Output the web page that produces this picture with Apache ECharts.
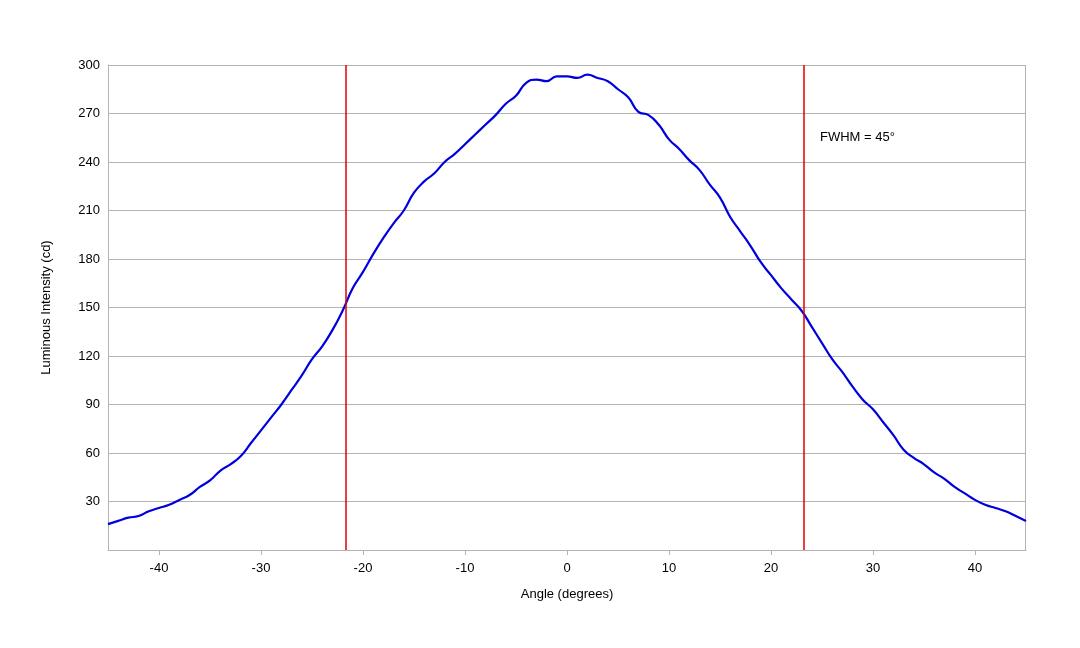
<!DOCTYPE html><html><head><meta charset="utf-8"><script src="https://cdn.jsdelivr.net/npm/echarts@6/dist/echarts.min.js"></script></head><body style="margin:0"><div id="c" style="width:1080px;height:648px"></div><script>
const angles=[];for(let a=-45;a<=45;a++)angles.push(a);
const intensity=[16,18,20,21,24,26,28,31,34,39,43,49,53,58,66,74,82,90,99,108,118,126,136,148,162,172,183,193,202,210,221,228,233,240,245,251,257,263,269,276,281,289,291,290,293,293,292,294,292,290,285,280,271,269,263,254,248,241,235,226,218,206,197,188,178,170,162,155,148,138,128,118,110,101,93,87,79,71,62,57,53,48,44,39,35,31,28,26,24,21,18];
const fwhmLines=[-21.7,23.2];
const xTicks=[-40,-30,-20,-10,0,10,20,30,40];
const ch=echarts.init(document.getElementById('c'));
const f='Liberation Sans, Arial, sans-serif';
ch.setOption({animation:false,
grid:{left:108,right:54,top:65,bottom:98},
xAxis:{type:'value',min:-45,max:45,name:'Angle (degrees)',nameLocation:'middle',nameGap:38,nameTextStyle:{fontFamily:f,fontSize:13,color:'#000'},
 axisLine:{onZero:false,lineStyle:{color:'#b3b3b3'}},axisTick:{customValues:xTicks,length:5,lineStyle:{color:'#b3b3b3'}},
 axisLabel:{customValues:xTicks,fontFamily:f,fontSize:13,color:'#000',margin:12},splitLine:{show:false}},
yAxis:{type:'value',min:0,max:300,interval:30,name:'Luminous Intensity (cd)',nameLocation:'middle',nameGap:55,nameTextStyle:{fontFamily:f,fontSize:13,color:'#000'},
 axisLine:{show:true,onZero:false,lineStyle:{color:'#b3b3b3'}},axisTick:{show:false},
 axisLabel:{fontFamily:f,fontSize:13,color:'#000',formatter:v=>v===0?'':v},splitLine:{lineStyle:{color:'#b3b3b3'}}},
series:[{type:'line',data:angles.map((a,i)=>[a,intensity[i]]),smooth:true,showSymbol:false,lineStyle:{color:'#0000dd',width:2.2},
 markLine:{silent:true,symbol:'none',label:{show:false},lineStyle:{color:'#e00000',type:'solid',width:1.5},data:fwhmLines.map(v=>({xAxis:v}))}}],
graphic:[{type:'text',left:820,top:131,style:{text:'FWHM = 45°',font:'13px '+f,fill:'#000'}},
 {type:'rect',shape:{x:1025,y:65,width:1,height:485},style:{fill:'#b3b3b3'}}]
});
</script></body></html>
